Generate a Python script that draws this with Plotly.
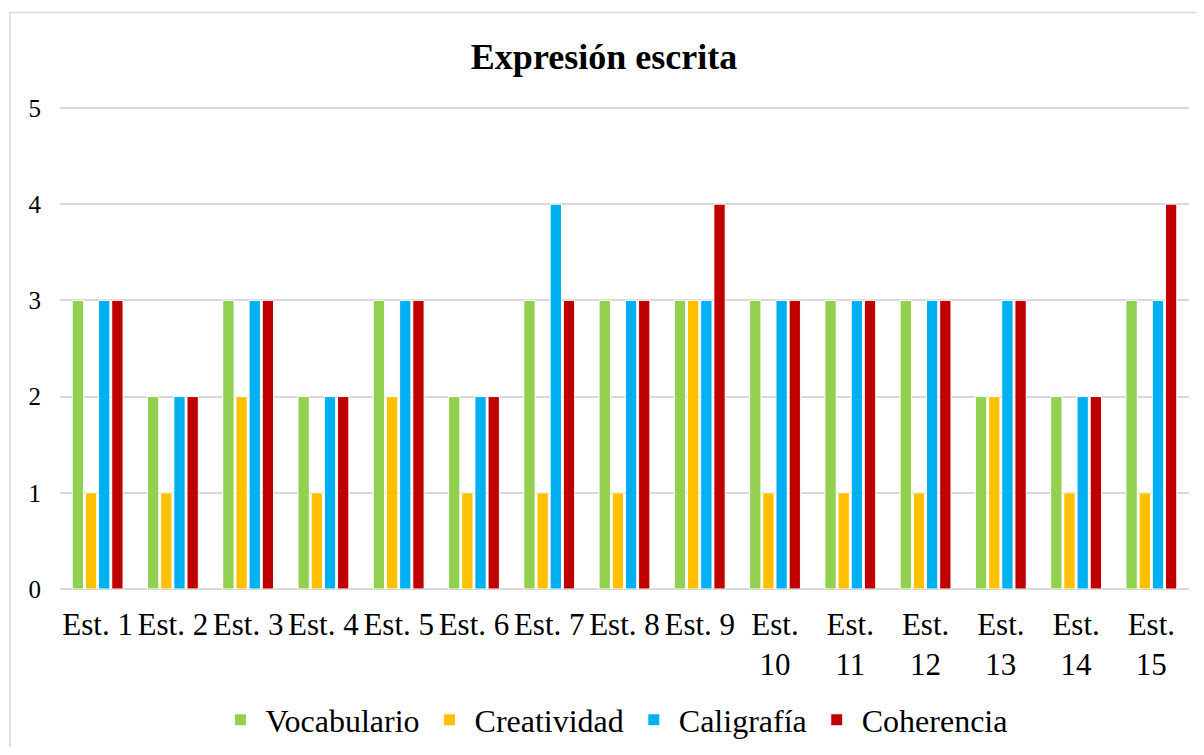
import plotly.graph_objects as go

categories = [f"Est. {i}" for i in range(1, 16)]
tick_labels = [f"Est. {i}" if i < 10 else f"Est.<br>{i}" for i in range(1, 16)]

vocabulario = [3, 2, 3, 2, 3, 2, 3, 3, 3, 3, 3, 3, 2, 2, 3]
creatividad = [1, 1, 2, 1, 2, 1, 1, 1, 3, 1, 1, 1, 2, 1, 1]
caligrafia = [3, 2, 3, 2, 3, 2, 4, 3, 3, 3, 3, 3, 3, 2, 3]
coherencia = [3, 2, 3, 2, 3, 2, 3, 3, 4, 3, 3, 3, 3, 2, 4]

series = [
    ("Vocabulario", vocabulario, "#92D050"),
    ("Creatividad", creatividad, "#FFC000"),
    ("Caligrafía", caligrafia, "#00B0F0"),
    ("Coherencia", coherencia, "#C00000"),
]

SERIF = "Liberation Serif, Times New Roman, serif"

# page body adds an 8px margin, so the figure is sized/placed to compensate
W, H = 1188, 739
L, R, T, B = 52, 7, 98, 158
pw = W - L - R
ph = H - T - B

fig = go.Figure()
for name, vals, color in series:
    fig.add_trace(go.Bar(
        x=categories, y=vals, name=name,
        marker=dict(color=color, line=dict(color="white", width=1)),
    ))

fig.update_layout(
    width=W, height=H,
    margin=dict(l=L, r=R, t=T, b=B, autoexpand=False),
    paper_bgcolor="white", plot_bgcolor="white",
    font=dict(family=SERIF, color="#000000", size=24),
    title=dict(text="<b>Expresión escrita</b>", x=(604 - 8 - L) / pw, xref="paper",
               xanchor="center", y=1 - 48 / H, yanchor="middle",
               font=dict(family=SERIF, size=36, color="#000000")),
    barmode="group", bargap=0.3, bargroupgap=0.14,
    showlegend=True,
    legend=dict(orientation="h", x=(614 - 8 - L) / pw, xanchor="center",
                y=(581 - 712) / ph, yanchor="middle",
                font=dict(family=SERIF, size=32, color="#000000"),
                itemwidth=40, tracegroupgap=0),
    xaxis=dict(tickmode="array", tickvals=categories, ticktext=tick_labels,
               tickangle=0, showgrid=False, showline=False, ticks="", automargin=False,
               tickfont=dict(family=SERIF, size=31, color="#000000"), ticklabelstandoff=14),
    yaxis=dict(range=[0, 5.02], tickvals=[0, 1, 2, 3, 4, 5], showgrid=True, gridcolor="#D9D9D9",
               gridwidth=1.5, zeroline=True, zerolinecolor="#D9D9D9", zerolinewidth=1.5,
               showline=False, ticks="", automargin=False,
               tickfont=dict(family=SERIF, size=25, color="#000000"), ticklabelstandoff=18),
    shapes=[dict(type="rect", xref="paper", yref="paper",
                 x0=(2 - L) / pw, x1=(W + 20 - L) / pw,
                 y0=-(B + 20) / ph, y1=1 + (T - 4.5) / ph,
                 line=dict(color="#D9D9D9", width=1.5), fillcolor="rgba(0,0,0,0)")],
)

fig.write_html("out.html")
